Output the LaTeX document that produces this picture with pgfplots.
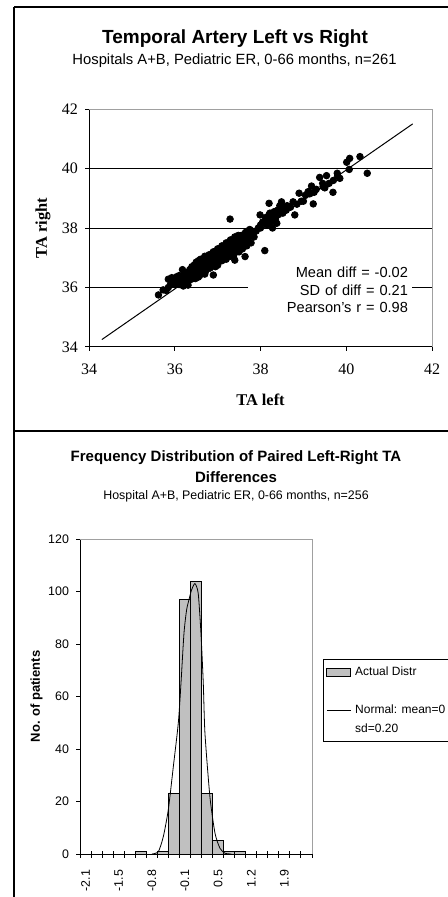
\documentclass[border=0pt]{standalone}
\usepackage{fontspec}
\setmainfont{Liberation Sans}
\newfontfamily\serifA{Liberation Serif}
\usepackage{pgfplots}
\pgfplotsset{compat=1.18}
\usepackage{pgfplotstable}
\definecolor{barfill}{HTML}{C0C0C0}
\definecolor{framegray}{HTML}{A0A0A0}
\pgfplotsset{
  barlegend/.style={legend image code/.code={\draw[##1] (0pt,-2pt) rectangle (12pt,2pt);}},
  linelegend/.style={legend image code/.code={\draw[##1] (0pt,0pt) -- (12pt,0pt);}},
}

\pgfplotstableread{
x y
35.62 35.75
35.73 35.92
35.80 35.90
35.85 36.28
35.85 36.00
35.93 36.33
35.90 36.10
35.95 36.20
36.04 36.36
36.00 36.10
36.05 36.25
36.00 36.20
36.10 36.10
36.12 36.30
36.15 36.20
36.10 36.40
36.20 36.30
36.22 36.50
36.25 36.15
36.20 36.40
36.18 36.60
36.20 36.05
36.31 36.08
36.30 36.30
36.30 36.50
36.35 36.60
36.32 36.40
36.28 36.20
36.35 36.25
36.40 36.40
36.40 36.60
36.42 36.30
36.45 36.50
36.40 36.70
36.38 36.55
36.45 36.75
36.50 36.50
36.50 36.70
36.52 36.40
36.55 36.60
36.50 36.85
36.48 36.30
36.55 36.90
36.55 36.35
36.60 36.60
36.60 36.80
36.62 36.50
36.65 36.70
36.60 36.95
36.58 36.40
36.65 36.85
36.65 36.55
36.70 36.70
36.70 36.90
36.72 36.55
36.75 36.80
36.70 37.05
36.68 36.60
36.75 37.00
36.72 36.75
36.70 36.45
36.75 36.65
36.80 36.80
36.80 37.00
36.82 36.65
36.85 36.90
36.80 37.10
36.78 36.70
36.85 37.05
36.82 36.85
36.85 36.70
36.88 37.15
36.90 36.90
36.90 37.10
36.90 36.42
36.92 36.75
36.95 37.00
36.90 37.20
36.88 36.80
36.95 36.85
36.95 36.70
37.00 37.00
37.00 37.20
37.02 36.85
37.05 37.10
37.00 37.30
36.98 36.90
37.05 36.95
37.02 37.15
37.00 36.75
37.05 37.30
37.10 37.10
37.10 37.30
37.12 36.95
37.15 37.20
37.10 37.40
37.08 37.00
37.15 37.05
37.12 37.25
37.10 36.90
37.15 37.35
37.20 37.20
37.20 37.40
37.22 37.05
37.25 37.30
37.20 37.50
37.18 37.10
37.25 37.15
37.20 36.95
37.25 37.50
37.29 38.30
37.30 37.30
37.30 37.50
37.32 37.15
37.35 37.40
37.30 37.60
37.35 37.25
37.30 37.05
37.35 37.55
37.40 36.92
37.40 37.40
37.40 37.60
37.42 37.25
37.45 37.50
37.40 37.70
37.45 37.35
37.38 37.10
37.45 37.65
37.50 37.50
37.50 37.65
37.52 37.35
37.55 37.55
37.48 37.75
37.50 37.20
37.55 37.75
37.64 37.04
37.60 37.60
37.60 37.75
37.62 37.45
37.65 37.55
37.58 37.30
37.65 37.85
37.70 37.70
37.70 37.90
37.72 37.55
37.75 37.75
37.68 37.40
37.75 37.95
37.78 37.50
37.80 37.80
37.80 37.90
37.85 37.70
37.90 37.90
37.95 38.00
37.99 38.44
38.00 38.10
38.05 38.20
38.00 38.00
38.10 37.24
38.10 38.20
38.12 38.35
38.15 38.10
38.20 38.83
38.20 38.30
38.22 38.50
38.25 38.20
38.20 38.45
38.30 38.40
38.28 38.00
38.32 38.55
38.35 38.30
38.38 38.16
38.40 38.60
38.42 38.45
38.45 38.75
38.49 38.88
38.50 38.60
38.52 38.50
38.55 38.70
38.60 38.60
38.62 38.75
38.76 38.88
38.70 38.70
38.80 38.44
38.85 38.80
38.90 39.17
38.95 38.90
39.00 38.90
39.05 39.10
39.11 39.22
39.15 39.15
39.19 39.41
39.23 38.81
39.25 39.20
39.30 39.30
39.38 39.70
39.46 39.39
39.45 39.50
39.54 39.76
39.60 39.50
39.50 39.35
39.69 39.20
39.70 39.60
39.79 39.84
39.85 39.67
39.80 39.75
40.01 40.21
40.07 39.97
40.08 40.34
40.32 40.40
40.49 39.84
}\scatterdata

\begin{document}
\begin{tikzpicture}[x=1pt,y=1pt]
% panel frames
\draw[line width=0.7pt] (7pt,-3.5pt) -- (230pt,-3.5pt);
\draw[line width=0.7pt] (7pt,-3.5pt) -- (7pt,-460pt);
\draw[line width=0.7pt] (7pt,-215.5pt) -- (230pt,-215.5pt);

% top panel titles
\node[anchor=base, font=\fontsize{9.5}{11}\selectfont\bfseries] at (117.5pt,-21.7pt) {Temporal Artery Left vs Right};
\node[anchor=base, font=\fontsize{7.4}{9}\selectfont] at (117.25pt,-32.2pt) {Hospitals A+B, Pediatric ER, 0-66 months, n=261};

\begin{axis}[
  at={(44.5pt,-173.5pt)}, anchor=south west, scale only axis,
  width=171.5pt, height=119pt,
  xmin=34, xmax=42, ymin=34, ymax=42,
  xtick={34,36,...,42}, ytick={34,36,...,42},
  axis x line*=bottom, axis y line*=left,
  axis line style={black, line width=0.5pt, -},
  tick align=outside, major tick length=2pt,
  tick style={black, line width=0.5pt},
  ymajorgrids, grid style={black, line width=0.5pt},
  /pgf/number format/assume math mode=true,
  ticklabel style={font=\fontsize{8}{9}\selectfont\serifA},
  xticklabel style={yshift=-3pt},
  xlabel={TA left}, ylabel={TA right},
  label style={font=\fontsize{8.2}{9}\selectfont\serifA\bfseries},
  xlabel style={at={(axis description cs:0.5,-0.223)}, anchor=center},
  ylabel style={at={(axis description cs:-0.134,0.5)}, anchor=center},
  clip=false,
]
\addplot[only marks, mark=*, mark size=1.65pt, black] table[x=x, y=y] {\scatterdata};
\addplot[black, line width=0.5pt] coordinates {(34.3,34.25) (41.55,41.5)};
\draw[framegray, line width=0.5pt] (rel axis cs:0,1) -- (rel axis cs:1,1) -- (rel axis cs:1,0);
\node[fill=white, text width=78pt, align=right, inner xsep=2pt, inner ysep=2pt,
      font=\fontsize{7.3}{8.65}\selectfont] at (axis cs:39.62,35.92)
      {Mean diff = -0.02\\SD of diff = 0.21\\Pearson's r = 0.98};
\end{axis}

% bottom panel titles
\node[anchor=base, font=\fontsize{7.5}{9}\selectfont\bfseries] at (118pt,-230.8pt) {Frequency Distribution of Paired Left-Right TA};
\node[anchor=base, font=\fontsize{7.5}{9}\selectfont\bfseries] at (118pt,-241.2pt) {Differences};
\node[anchor=base, font=\fontsize{6.2}{7.5}\selectfont] at (118pt,-249.7pt) {Hospital A+B, Pediatric ER, 0-66 months, n=256};

\begin{axis}[
  at={(40pt,-427pt)}, anchor=south west, scale only axis,
  width=116pt, height=157.5pt,
  xmin=-0.5, xmax=20.5, ymin=0, ymax=120,
  ytick={0,20,...,120},
  xtick={0,3,...,18},
  xticklabels={-2.1,-1.5,-0.8,-0.1,0.5,1.2,1.9},
  minor xtick={-0.5,0.5,...,20.5},
  axis x line*=bottom, axis y line*=left,
  axis line style={black, line width=0.5pt, -},
  tick align=outside, major tick length=2pt, minor tick length=3.5pt,
  tick style={black, line width=0.5pt},
  major x tick style={draw=none},
  minor x tick style={black, line width=0.5pt, yshift=1.75pt},
  /pgf/number format/assume math mode=true,
  ticklabel style={font=\fontsize{6.2}{7}\selectfont},
  xticklabel style={rotate=90, anchor=east, xshift=-2.5pt},
  ylabel={No. of patients},
  ylabel style={font=\fontsize{6.5}{7}\selectfont\bfseries, at={(axis description cs:-0.187,0.5)}, anchor=center},
  legend style={at={(1.047,0.619)}, anchor=north west, draw=black, line width=0.5pt,
    font=\fontsize{6}{7}\selectfont, inner xsep=1.5pt, inner ysep=2.5pt, row sep=2pt,
    nodes={inner sep=0.5pt, text height=5pt, text depth=1.5pt}, cells={anchor=west},
    /tikz/every odd column/.append style={column sep=1.5pt}},
  legend cell align=left,
  clip=false,
]
\addplot[ybar, bar width=1, fill=barfill, draw=black, line width=0.4pt, barlegend]
  coordinates {(5,1) (7,1) (8,23) (9,97) (10,104) (11,23) (12,5) (13,1) (14,1)};
\addlegendentry{Actual Distr}
\addlegendimage{empty legend}
\addlegendentry{}
\addplot[black, line width=0.4pt, smooth, tension=0.4, linelegend]
  coordinates {(6.0,0) (6.59,0.9) (7.04,6.6) (7.49,16.8) (7.94,33) (8.4,50) (8.64,65) (8.91,84) (9.15,93) (9.36,96.8) (9.6,100.6) (9.9,103) (10.2,99.3) (10.45,84) (10.66,65) (10.81,46) (11.26,21.8) (11.72,7.9) (12.17,2.2) (12.62,0.3) (13.2,0)};
\addlegendentry{Normal: mean=0}
\addlegendimage{empty legend}
\addlegendentry{sd=0.20}
\draw[framegray, line width=0.5pt] (rel axis cs:0,1) -- (rel axis cs:1,1) -- (rel axis cs:1,0);
\end{axis}

\pgfresetboundingbox
\path[use as bounding box] (0pt,0pt) rectangle (224pt,-448.5pt);
\end{tikzpicture}
\end{document}
